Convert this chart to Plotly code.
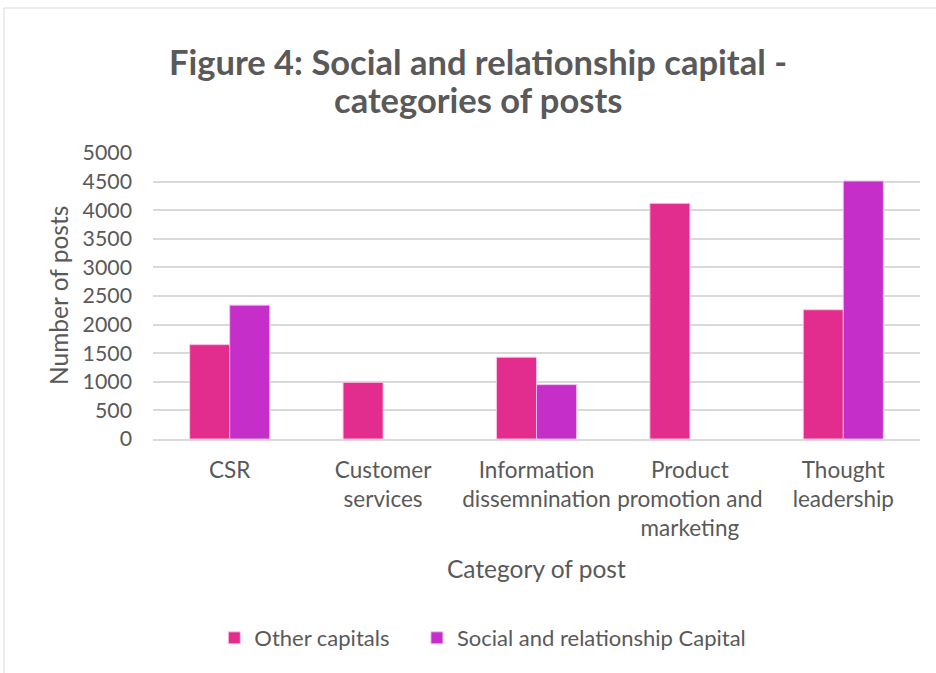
import plotly.graph_objects as go

categories = ["CSR", "Customer services", "Information dissemnination",
              "Product promotion and marketing", "Thought leadership"]
tick_labels = ["CSR", "Customer<br>services", "Information<br>dissemnination",
               "Product<br>promotion and<br>marketing", "Thought<br>leadership"]
other_capitals = [1650, 990, 1430, 4120, 2260]
social_capital = [2340, None, 950, None, 4510]
y_ticks = [0, 500, 1000, 1500, 2000, 2500, 3000, 3500, 4000, 4500, 5000]
title_lines = ["Figure 4: Social and relationship capital -", "categories of posts"]
series_names = ["Other capitals", "Social and relationship Capital"]

FONT = "Lato"
TXT = "#595959"

fig = go.Figure()
fig.add_trace(go.Bar(x=categories, y=other_capitals, name=series_names[0] + "\u00a0" * 4,
                     marker=dict(color="#E22D8E", line=dict(color="rgba(255,200,230,0.9)", width=1))))
fig.add_trace(go.Bar(x=categories, y=social_capital, name=series_names[1],
                     marker=dict(color="#C62EC9", line=dict(color="rgba(240,190,240,0.9)", width=1))))

fig.update_layout(
    width=936, height=673,
    margin=dict(l=153, r=16, t=153, b=234),
    paper_bgcolor="white", plot_bgcolor="white",
    barmode="group", bargap=0.478, bargroupgap=0,
    font=dict(family=FONT, color=TXT, size=22),
    legend=dict(orientation="h", x=0.43, xanchor="center", y=-0.696, yanchor="middle",
                font=dict(size=22, color=TXT), itemwidth=30, traceorder="normal"),
    showlegend=True,
)
fig.update_xaxes(tickmode="array", tickvals=categories, ticktext=tick_labels,
                 showgrid=False, showline=True, linecolor="#D9D9D9", linewidth=1.5,
                 ticks="", ticklabelstandoff=10, tickfont=dict(size=22.5, color=TXT))
fig.update_yaxes(range=[0, 5000], tickvals=y_ticks, showgrid=True, gridcolor="#D9D9D9",
                 gridwidth=1.5, zeroline=False, showline=False, ticks="",
                 ticklabelstandoff=20, tickfont=dict(size=21.3, color=TXT))

for i, line in enumerate(title_lines):
    fig.add_annotation(text="<b>" + line + "</b>", xref="paper", yref="paper",
                       x=(478 - 153) / 767, y=(439 - (61 + 38 * i)) / 286,
                       xanchor="center", yanchor="middle", showarrow=False,
                       font=dict(size=34.5, color=TXT, family=FONT))

fig.add_annotation(text="Category of post", xref="paper", yref="paper",
                   x=(536 - 153) / 767, y=(439 - 568) / 286, xanchor="center", yanchor="middle",
                   showarrow=False, font=dict(size=24.5, color=TXT))
fig.add_annotation(text="Number of posts", xref="paper", yref="paper",
                   x=(58 - 153) / 767, y=0.5, xanchor="center", yanchor="middle",
                   textangle=-90, showarrow=False, font=dict(size=24.5, color=TXT))

fig.add_shape(type="rect", xref="paper", yref="paper",
              x0=(4 - 153) / 767, x1=(945 - 153) / 767,
              y0=(439 - 690) / 286, y1=(439 - 8) / 286,
              line=dict(color="#D9D9D9", width=1), fillcolor="rgba(0,0,0,0)", layer="below")

fig.write_html("out.html")
